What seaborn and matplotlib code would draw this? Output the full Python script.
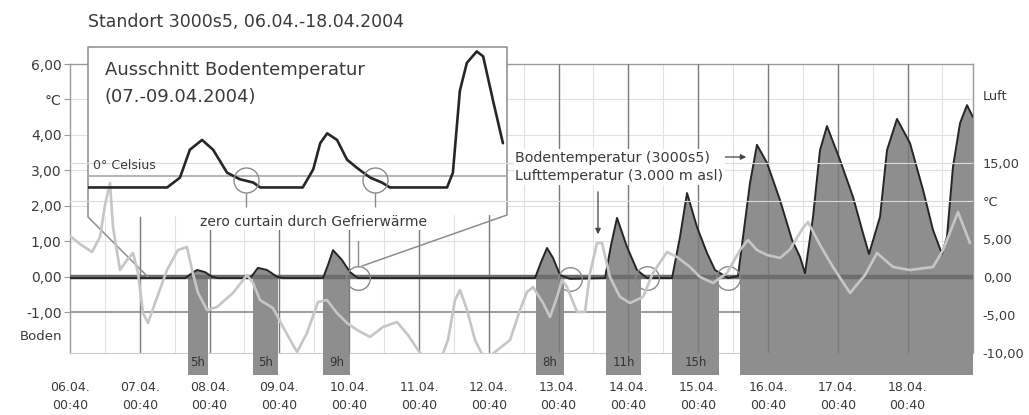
import numpy as np
import pandas as pd
import matplotlib
matplotlib.use('Agg')
import matplotlib.pyplot as plt
import matplotlib.patches as mpatches
import seaborn as sns

# ---- data (x in days since 06.04. 00:40) ----
day_labels = ['06.04.', '07.04.', '08.04.', '09.04.', '10.04.', '11.04.', '12.04.',
              '13.04.', '14.04.', '15.04.', '16.04.', '17.04.', '18.04.']
time_label = '00:40'

# Bodentemperatur (left axis, °C)
boden_day = [0, 1.648, 1.734, 1.819, 1.934, 2.034, 2.120, 2.579, 2.636, 2.693, 2.822, 2.966, 3.052,
             3.625, 3.696, 3.768, 3.897, 4.011, 4.126, 6.662, 6.748, 6.834, 6.920, 7.020, 7.163,
             7.665, 7.751, 7.837, 7.980, 8.123, 8.266, 8.625, 8.739, 8.840, 8.983, 9.126, 9.241, 9.427,
             9.570, 9.642, 9.742, 9.842, 9.986, 10.172, 10.344, 10.458, 10.530,
             10.645, 10.745, 10.845, 11.032, 11.218, 11.361, 11.447,
             11.605, 11.705, 11.848, 12.034, 12.221, 12.364, 12.493,
             12.564, 12.650, 12.751, 12.851, 12.937]
boden_temp = [-0.04, -0.04, 0.08, 0.19, 0.13, 0.0, -0.04, -0.04, 0.10, 0.25, 0.19, 0.0, -0.04,
              -0.04, 0.33, 0.75, 0.47, 0.13, -0.04, -0.04, 0.41, 0.81, 0.53, 0.05, -0.06,
              -0.04, 0.89, 1.66, 0.84, 0.19, -0.04, -0.04, 1.12, 2.36, 1.40, 0.67, 0.19, -0.04,
              0.02, 1.12, 2.64, 3.72, 3.21, 2.16, 1.04, 0.56, 0.10,
              1.69, 3.57, 4.25, 3.29, 2.25, 1.23, 0.64,
              1.69, 3.57, 4.45, 3.77, 2.45, 1.32, 0.64,
              1.12, 3.10, 4.33, 4.84, 4.50]

# Lufttemperatur (right axis, °C)
luft_day = [0.000, 0.143, 0.315, 0.430, 0.501, 0.573, 0.616, 0.716, 0.817, 0.903, 0.974, 1.046,
            1.117, 1.218, 1.390, 1.547, 1.676, 1.748, 1.834, 1.963, 2.106, 2.335, 2.536, 2.622,
            2.722, 2.908, 3.052, 3.252, 3.395, 3.553, 3.682, 3.825, 3.968, 4.112, 4.298, 4.484,
            4.685, 4.842, 5.014, 5.272, 5.415, 5.516, 5.587, 5.688, 5.802, 5.946, 6.089, 6.304,
            6.447, 6.547, 6.633, 6.777, 6.877, 6.977, 7.049, 7.120, 7.264, 7.378, 7.450, 7.550,
            7.622, 7.736, 7.880, 8.023, 8.209, 8.352, 8.553, 8.696, 8.883, 9.026, 9.212, 9.413,
            9.599, 9.713, 9.842, 9.986, 10.172, 10.315, 10.501, 10.573, 10.745, 10.931, 11.175,
            11.390, 11.562, 11.791, 12.034, 12.364, 12.507, 12.722, 12.894]
luft_temp = [5.36, 4.30, 3.25, 5.22, 9.43, 12.33, 6.54, 0.88, 2.20, 3.12, 0.49, -4.78,
             -6.09, -3.46, 0.88, 3.51, 3.91, 0.88, -2.14, -4.38, -3.99, -2.14, 0.22, -0.83,
             -3.07, -4.12, -6.62, -9.91, -7.41, -3.33, -3.07, -4.78, -6.09, -7.01, -7.93, -6.62,
             -5.96, -7.67, -10.04, -11.88, -8.33, -3.07, -1.75, -4.38, -8.33, -10.96, -9.91, -8.33,
             -4.38, -2.01, -1.36, -3.46, -5.30, -2.67, -0.43, -1.36, -4.64, -4.64, 0.49, 4.43,
             4.43, -0.04, -2.67, -3.46, -2.67, 0.49, 3.25, 2.59, 1.28, -0.04, -0.83, 0.49,
             3.51, 4.83, 3.51, 2.86, 2.46, 3.60, 6.41, 7.20, 4.17, 1.28, -2.14,
             0.22, 3.12, 1.28, 0.88, 1.28, 3.51, 8.51, 4.43]

# periods marked with grey bars
tau_start = [1.690, 2.622, 3.625, 6.676, 7.679, 8.625, 9.599]
tau_end = [1.977, 2.980, 4.011, 7.077, 8.181, 9.298, 12.937]
tau_labels = ['5h', '5h', '9h', '8h', '11h', '15h', '']

# zero curtain markers
zc_day = [4.126, 7.163, 8.266, 9.427]
zc_temp = [-0.04, -0.06, -0.04, -0.04]

# Ausschnitt (hours since 07.04.)
aus_hours = [0.0, 13.6, 15.8, 17.5, 19.6, 21.5, 23.9, 26.1, 28.4, 29.6, 36.9, 38.7, 39.9, 41.1,
             42.8, 44.5, 46.2, 48.5, 50.5, 51.9, 61.7, 62.7, 63.9, 65.1, 66.8, 67.9, 69.6, 71.3]
aus_temp = [-0.07, -0.07, -0.01, 0.16, 0.22, 0.16, 0.02, -0.02, -0.04, -0.07, -0.07, 0.04, 0.20, 0.26,
            0.22, 0.10, 0.05, -0.01, -0.04, -0.07, -0.07, 0.02, 0.52, 0.69, 0.76, 0.73, 0.46, 0.20]
aus_zc_hours = [27.1, 49.3]
aus_zc_temp = [-0.024, -0.024]

# ---- style ----
sns.set_style('white')
plt.rcParams['font.family'] = ['DejaVu Sans']
txt = '#3a3a3a'
fill = '#8e8e8e'

W, H = 1029, 415
fig = plt.figure(figsize=(W / 100, H / 100), dpi=100)


def fx(px):
    return px / W


def fy(py):
    return 1 - py / H


ax = fig.add_axes([fx(70), fy(353), (973 - 70) / W, (353 - 64) / H])
ax.set_xlim(0, 12.937)
ax.set_ylim(-2.152, 6.0)

# grid
for v in [1, 2, 3, 4, 5]:
    ax.axhline(v, color='#e0e0e0', lw=0.8, zorder=0.5)
ax.axhline(-1, color='#8a8a8a', lw=1.2, zorder=0.6)
for d in range(13):
    ax.axvline(d + 0.5, color='#e2e2e2', lw=0.8, zorder=0.5)
for d in range(1, 13):
    ax.axvline(d, color='#7a7a7a', lw=1.0, zorder=3.2)

# bars + area under soil temperature
ax.bar(tau_start, height=-2.76, width=np.array(tau_end) - np.array(tau_start), bottom=0,
       align='edge', color=fill, lw=0, zorder=3, clip_on=False)
bt = np.array(boden_temp)
ax.fill_between(boden_day, bt, 0, where=bt > 0, interpolate=True, color=fill, lw=0, zorder=3)
ax.axhline(0, color='#6e6e6e', lw=3.2, zorder=3.3)
sns.lineplot(x=boden_day, y=boden_temp, ax=ax, color='#262626', lw=1.4, estimator=None, zorder=5)

for s, e, lab in zip(tau_start, tau_end, tau_labels):
    if lab:
        ax.text((s + e) / 2, -2.43, lab, ha='center', va='center', fontsize=8.5, color='#333333',
                zorder=6, clip_on=False)

ax.plot(zc_day, zc_temp, 'o', ms=17, mfc='none', mec='#8a8a8a', mew=1.0, zorder=6)

# inset frame (white box hiding the grid)
box = [(fx(88), fy(217)), (fx(88), fy(47)), (fx(507), fy(47)), (fx(507), fy(215))]
ax.add_patch(mpatches.Polygon(box, closed=True, transform=fig.transFigure, fc='white', ec='none',
                              zorder=4, clip_on=False))
frame = [(148, 277), (88, 217), (88, 47), (507, 47), (507, 215), (362, 266)]
ax.plot([fx(p[0]) for p in frame], [fy(p[1]) for p in frame], transform=fig.transFigure,
        color='#8c8c8c', lw=1.1, zorder=4.1, clip_on=False)
ax.plot([fx(358), fx(358)], [fy(241), fy(266)], transform=fig.transFigure,
        color='#8c8c8c', lw=1.0, zorder=4.1, clip_on=False)

# spines / ticks
for sp in ['top', 'left', 'right']:
    ax.spines[sp].set_color('#9a9a9a')
    ax.spines[sp].set_linewidth(1.0)
ax.spines['bottom'].set_color('#cccccc')
ax.set_yticks([6, 5, 4, 3, 2, 1, 0, -1])
ax.set_yticklabels(['6,00', '°C', '4,00', '3,00', '2,00', '1,00', '0,00', '-1,00'])
ax.tick_params(axis='y', length=4, width=0.8, color='#999999', labelsize=10, labelcolor=txt, pad=2)
ax.set_xticks(range(13))
ax.set_xticklabels([f'{d}\n{time_label}' for d in day_labels], linespacing=1.55)
ax.tick_params(axis='x', length=0, labelsize=9, labelcolor=txt, pad=20)
ax.set_xlabel('')
ax.set_ylabel('')

# right axis: air temperature
ax2 = ax.twinx()
ax2.set_ylim(-10.04, 27.99)
for v in [10, 15]:
    ax2.axhline(v, color='#dadada', lw=0.8, zorder=0.5)
sns.lineplot(x=luft_day, y=luft_temp, ax=ax2, color='#c6c6c6', lw=1.9, estimator=None, zorder=5)
for sp in ax2.spines.values():
    sp.set_visible(False)
ax2.set_yticks([-10, -5, 0, 5, 10, 15, 23.9])
ax2.set_yticklabels(['-10,00', '-5,00', '0,00', '5,00', '°C', '15,00', 'Luft'])
ax2.tick_params(axis='y', length=0, labelsize=9.3, labelcolor=txt, pad=7)
ax2.set_ylabel('')

# inset: Ausschnitt Bodentemperatur
ins = fig.add_axes([fx(88), fy(215), (507 - 88) / W, (215 - 47) / H])
ins.set_xlim(0, 72)
ins.set_ylim(-0.238, 0.787)
ins.axis('off')
ins.axhline(0, color='#a8a8a8', lw=1.2)
sns.lineplot(x=aus_hours, y=aus_temp, ax=ins, color='#262626', lw=1.9, estimator=None)
ins.plot(aus_zc_hours, aus_zc_temp, 'o', ms=18, mfc='none', mec='#8a8a8a', mew=1.0)
ins.vlines(aus_zc_hours, -0.189, -0.104, color='#8a8a8a', lw=1.0)

# texts
fig.text(fx(88), fy(22), 'Standort 3000s5, 06.04.-18.04.2004', fontsize=12.5, color=txt,
         ha='left', va='center')
fig.text(fx(105), fy(70), 'Ausschnitt Bodentemperatur', fontsize=13, color=txt, ha='left', va='center')
fig.text(fx(105), fy(97), '(07.-09.04.2004)', fontsize=13, color=txt, ha='left', va='center')
fig.text(fx(93), fy(165), '0° Celsius', fontsize=9, color=txt, ha='left', va='center')
fig.text(fx(313), fy(222), 'zero curtain durch Gefrierwärme', fontsize=10, color=txt,
         ha='center', va='center', bbox=dict(fc='white', ec='none', pad=1))
fig.text(fx(62), fy(337), 'Boden', fontsize=9.5, color=txt, ha='right', va='center')
fig.text(fx(515), fy(167), 'Bodentemperatur (3000s5)\nLufttemperatur (3.000 m asl)', fontsize=10.3,
         color=txt, ha='left', va='center', linespacing=1.45, bbox=dict(fc='white', ec='none', pad=1))
fig.add_artist(mpatches.FancyArrowPatch((fx(719), fy(157)), (fx(749), fy(157)),
                                        transform=fig.transFigure, arrowstyle='-|>',
                                        mutation_scale=8, color='#444444', lw=0.9))
fig.add_artist(mpatches.FancyArrowPatch((fx(598), fy(189)), (fx(598), fy(237)),
                                        transform=fig.transFigure, arrowstyle='-|>',
                                        mutation_scale=8, color='#444444', lw=0.9))

fig.savefig('out.png', dpi=100, facecolor='white')
